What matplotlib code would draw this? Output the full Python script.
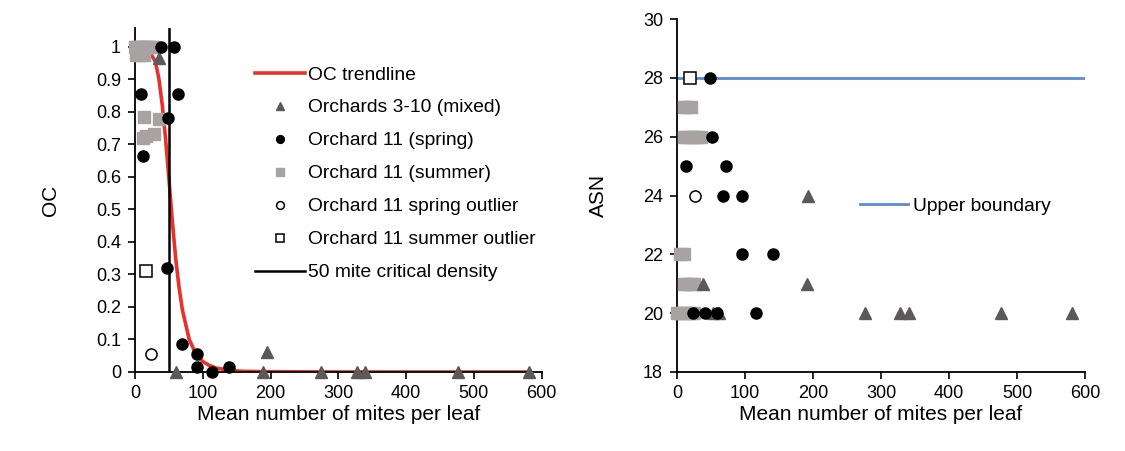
import matplotlib
matplotlib.use("Agg")
import matplotlib.pyplot as plt

plt.rcParams["font.family"] = ["Liberation Sans", "DejaVu Sans"]

# ---- left panel: operating characteristic (OC) ----
trend_x = [0, 10, 20, 30, 35, 40, 45, 50, 55, 60, 65, 70, 80, 90, 100, 110, 120, 140, 160, 200, 300, 400, 500, 580]
trend_oc = [1.0, 0.998, 0.99, 0.955, 0.905, 0.825, 0.72, 0.595, 0.465, 0.35, 0.26, 0.19, 0.10, 0.055,
            0.032, 0.02, 0.012, 0.005, 0.002, 0.001, 0.0, 0.0, 0.0, 0.0]

mixed_x = [35, 60, 189, 195, 275, 327, 339, 476, 581]
mixed_oc = [0.966, 0.0, 0.0, 0.06, 0.0, 0.0, 0.0, 0.0, 0.0]

spring_x = [38, 58, 9, 64, 49, 12, 47, 70, 92, 92, 114, 139]
spring_oc = [1.0, 1.0, 0.855, 0.855, 0.78, 0.665, 0.32, 0.086, 0.055, 0.015, 0.0, 0.015]

summer_x = [0, 3, 6, 9, 12, 15, 18, 21, 24, 27, 2, 8, 14, 13, 35, 12, 16, 28]
summer_oc = [1.0, 1.0, 1.0, 1.0, 1.0, 1.0, 1.0, 1.0, 1.0, 1.0, 0.975, 0.975, 0.975,
             0.785, 0.778, 0.72, 0.725, 0.732]

spring_out_x = [24]
spring_out_oc = [0.055]
summer_out_x = [16]
summer_out_oc = [0.31]

critical_density = 50

# ---- right panel: average sample number (ASN) ----
upper_boundary = 28

mixed_asn_x = [38, 53, 62, 193, 191, 276, 328, 341, 477, 581]
mixed_asn = [21, 20, 20, 24, 21, 20, 20, 20, 20, 20]

spring_asn_x = [48, 51, 13, 72, 67, 95, 95, 141, 24, 41, 59, 116]
spring_asn = [28, 26, 25, 25, 24, 24, 22, 22, 20, 20, 20, 20]

summer_asn_x = [10, 15, 20, 10, 15, 20, 25, 30, 35, 5, 10, 10, 15, 20, 25, 0, 5, 10, 15, 20, 25]
summer_asn = [27, 27, 27, 26, 26, 26, 26, 26, 26, 22, 22, 21, 21, 21, 21, 20, 20, 20, 20, 20, 20]

spring_out_asn_x = [26]
spring_out_asn = [24]
summer_out_asn_x = [19]
summer_out_asn = [28]

RED = "#E8312B"
TRI = "#5E5959"
GREY = "#A9A2A2"
BLUE = "#5B8BD4"

fig = plt.figure(figsize=(11.25, 4.51), dpi=100)
ax1 = fig.add_axes([135 / 1125, 1 - 372 / 451, (541.7 - 135) / 1125, (372 - 28) / 451])
ax2 = fig.add_axes([677 / 1125, 1 - 372 / 451, (1085 - 677) / 1125, (372 - 19) / 451])

ms = dict(linestyle="none", clip_on=False)
ax1.plot(trend_x, trend_oc, color=RED, lw=2.6, label="OC trendline", zorder=2)
ax1.plot(mixed_x, mixed_oc, marker="^", color=TRI, markersize=9, label="Orchards 3-10 (mixed)", zorder=4, **ms)
ax1.plot(spring_x, spring_oc, marker="o", color="black", markersize=8, label="Orchard 11 (spring)", zorder=4, **ms)
ax1.plot(summer_x, summer_oc, marker="s", color=GREY, markersize=8, label="Orchard 11 (summer)", zorder=3, **ms)
ax1.plot(spring_out_x, spring_out_oc, marker="o", mfc="white", mec="black", mew=1.1, markersize=8,
         label="Orchard 11 spring outlier", zorder=4, **ms)
ax1.plot(summer_out_x, summer_out_oc, marker="s", mfc="white", mec="black", mew=1.1, markersize=8,
         label="Orchard 11 summer outlier", zorder=4, **ms)
ax1.axvline(critical_density, color="black", lw=1.8, label="50 mite critical density", zorder=3)

ax1.set_xlim(0, 600)
ax1.set_ylim(0, 1.058)
ax1.set_xticks(range(0, 601, 100))
ax1.set_yticks([i / 10 for i in range(11)])
ax1.set_yticklabels(["0"] + [f"{i / 10:.1f}" for i in range(1, 10)] + ["1"])
ax1.set_ylabel("OC", fontsize=15, labelpad=26)
ax1.set_xlabel("Mean number of mites per leaf", fontsize=15, labelpad=2.5)

ax2.plot(mixed_asn_x, mixed_asn, marker="^", color=TRI, markersize=9, zorder=4, **ms)
ax2.plot(spring_asn_x, spring_asn, marker="o", color="black", markersize=8, zorder=4, **ms)
ax2.plot(summer_asn_x, summer_asn, marker="s", color=GREY, markersize=8, zorder=3, **ms)
ax2.plot(spring_out_asn_x, spring_out_asn, marker="o", mfc="white", mec="black", mew=1.1, markersize=8, zorder=4, **ms)
ax2.plot(summer_out_asn_x, summer_out_asn, marker="s", mfc="white", mec="black", mew=1.1, markersize=8, zorder=5, **ms)
ax2.plot([0, 600], [upper_boundary, upper_boundary], color=BLUE, lw=2, label="Upper boundary", zorder=2)

ax2.set_xlim(0, 600)
ax2.set_ylim(18, 30)
ax2.set_xticks(range(0, 601, 100))
ax2.set_yticks(range(18, 31, 2))
ax2.set_ylabel("ASN", fontsize=15, labelpad=25)
ax2.set_xlabel("Mean number of mites per leaf", fontsize=15, labelpad=2.5)

for ax in (ax1, ax2):
    ax.spines["top"].set_visible(False)
    ax.spines["right"].set_visible(False)
    ax.spines["left"].set_linewidth(1.3)
    ax.spines["bottom"].set_linewidth(1.3)
    ax.tick_params(direction="out", length=5, width=1.2, labelsize=13, colors="black")
    ax.tick_params(axis="y", pad=5)
    ax.tick_params(axis="x", pad=4)

ax1.legend(loc="upper left", bbox_to_anchor=(255 / 1125, 1 - 66 / 451), bbox_transform=fig.transFigure,
           frameon=False, fontsize=13.9, markerscale=0.7, handlelength=2.6, handletextpad=0.15,
           labelspacing=0.8, borderpad=0, borderaxespad=0)
ax2.legend(loc="center left", bbox_to_anchor=(860 / 1125, 1 - 206 / 451), bbox_transform=fig.transFigure,
           frameon=False, fontsize=13.9, handlelength=2.5, handletextpad=0.25, borderpad=0, borderaxespad=0)

fig.savefig("out.png", dpi=100, facecolor="white")
